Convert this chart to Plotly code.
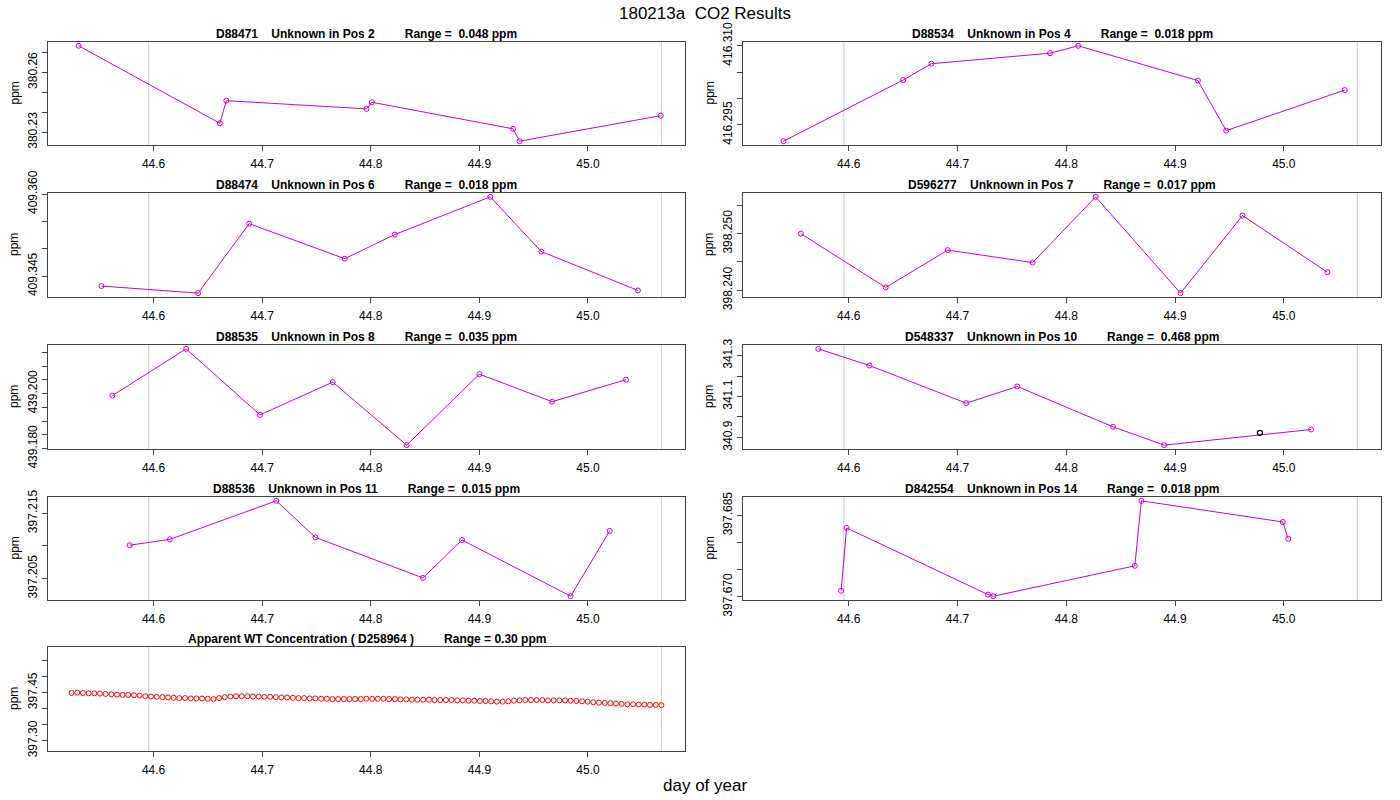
import numpy as np
import plotly.graph_objects as go

# ---- data (decimal day of year, ppm) ----
d88471_day = [44.531, 44.661, 44.667, 44.796, 44.801, 44.931, 44.937, 45.067]
d88471_ppm = [380.2733, 380.2345, 380.2458, 380.2417, 380.2450, 380.2317, 380.2255, 380.2383]

d88534_day = [44.540, 44.650, 44.676, 44.785, 44.811, 44.921, 44.947, 45.056]
d88534_ppm = [416.2919, 416.3035, 416.3066, 416.3086, 416.3100, 416.3034, 416.2939, 416.3016]

d88474_day = [44.552, 44.641, 44.688, 44.776, 44.822, 44.910, 44.957, 45.046]
d88474_ppm = [409.3432, 409.3419, 409.3546, 409.3482, 409.3526, 409.3595, 409.3495, 409.3424]

d596277_day = [44.556, 44.634, 44.691, 44.769, 44.827, 44.905, 44.962, 45.040]
d596277_ppm = [398.2500, 398.2405, 398.2471, 398.2449, 398.2565, 398.2395, 398.2532, 398.2432]

d88535_day = [44.562, 44.630, 44.698, 44.765, 44.833, 44.900, 44.967, 45.035]
d88535_ppm = [439.1993, 439.2163, 439.1923, 439.2042, 439.1813, 439.2071, 439.1971, 439.2051]

d548337_day = [44.572, 44.619, 44.708, 44.755, 44.843, 44.890, 45.025]
d548337_ppm = [341.3325, 341.2512, 341.0675, 341.1488, 340.9520, 340.8626, 340.9390]
d548337_flag_day = [44.978]
d548337_flag_ppm = [340.9228]

d88536_day = [44.578, 44.615, 44.713, 44.749, 44.848, 44.884, 44.984, 45.020]
d88536_ppm = [397.2101, 397.2110, 397.2169, 397.2113, 397.2051, 397.2109, 397.2023, 397.2123]

d842554_day = [44.593, 44.598, 44.728, 44.733, 44.863, 44.869, 44.999, 45.004]
d842554_ppm = [397.6711, 397.6827, 397.6704, 397.6701, 397.6757, 397.6877, 397.6838, 397.6807]

wt_day = [44.5245, 44.5297, 44.5349, 44.5402, 44.5454, 44.5506, 44.5558, 44.5611, 44.5663, 44.5715,
          44.5767, 44.5819, 44.5872, 44.5924, 44.5976, 44.6028, 44.6081, 44.6133, 44.6185, 44.6237,
          44.6289, 44.6342, 44.6394, 44.6446, 44.6498, 44.6551, 44.6603, 44.6655, 44.6707, 44.6759,
          44.6812, 44.6864, 44.6916, 44.6968, 44.7020, 44.7073, 44.7125, 44.7177, 44.7229, 44.7282,
          44.7334, 44.7386, 44.7438, 44.7490, 44.7543, 44.7595, 44.7647, 44.7699, 44.7752, 44.7804,
          44.7856, 44.7908, 44.7960, 44.8013, 44.8065, 44.8117, 44.8169, 44.8222, 44.8274, 44.8326,
          44.8378, 44.8430, 44.8483, 44.8535, 44.8587, 44.8639, 44.8692, 44.8744, 44.8796, 44.8848,
          44.8900, 44.8953, 44.9005, 44.9057, 44.9109, 44.9161, 44.9214, 44.9266, 44.9318, 44.9370,
          44.9423, 44.9475, 44.9527, 44.9579, 44.9631, 44.9684, 44.9736, 44.9788, 44.9840, 44.9893,
          44.9945, 44.9997, 45.0049, 45.0101, 45.0154, 45.0206, 45.0258, 45.0310, 45.0363, 45.0415,
          45.0467, 45.0519, 45.0571, 45.0624, 45.0676]
wt_ppm = [397.449, 397.450, 397.449, 397.448, 397.448, 397.447, 397.446, 397.445, 397.444, 397.443,
          397.443, 397.442, 397.441, 397.439, 397.438, 397.437, 397.436, 397.435, 397.434, 397.433,
          397.433, 397.432, 397.432, 397.432, 397.431, 397.430, 397.433, 397.436, 397.438, 397.439,
          397.439, 397.439, 397.438, 397.438, 397.437, 397.437, 397.436, 397.435, 397.435, 397.434,
          397.433, 397.433, 397.432, 397.432, 397.431, 397.431, 397.430, 397.430, 397.430, 397.430,
          397.430, 397.430, 397.431, 397.431, 397.431, 397.431, 397.430, 397.430, 397.429, 397.429,
          397.428, 397.428, 397.428, 397.428, 397.427, 397.427, 397.427, 397.427, 397.426, 397.426,
          397.425, 397.425, 397.424, 397.424, 397.423, 397.422, 397.422, 397.423, 397.425, 397.426,
          397.427, 397.427, 397.427, 397.427, 397.426, 397.426, 397.426, 397.426, 397.425, 397.424,
          397.423, 397.422, 397.420, 397.419, 397.418, 397.417, 397.416, 397.415, 397.414, 397.414,
          397.413, 397.413, 397.412, 397.412, 397.411]
wt_id = "D258964"
wt_window = 0.30

ref_days = [44.5955, 45.0676]   # grey markers drawn on every panel

tank_ids = ["D88471", "D88534", "D88474", "D596277", "D88535", "D548337", "D88536", "D842554"]
positions = [2, 4, 6, 7, 8, 10, 11, 14]
range_labels = ["0.048", "0.018", "0.018", "0.017", "0.035", "0.468", "0.015", "0.018"]

ytick_vals = [
    [380.23, 380.24, 380.25, 380.26, 380.27],
    [416.295, 416.300, 416.305, 416.310],
    [409.345, 409.350, 409.355, 409.360],
    [398.240, 398.245, 398.250, 398.255],
    [439.180, 439.185, 439.190, 439.195, 439.200, 439.205, 439.210, 439.215],
    [340.9, 341.0, 341.1, 341.2, 341.3],
    [397.205, 397.210, 397.215],
    [397.670, 397.675, 397.680, 397.685],
    [397.30, 397.35, 397.40, 397.45, 397.50, 397.55],
]
ytick_text = [
    ["380.23", "", "", "380.26", ""],
    ["416.295", "", "", "416.310"],
    ["409.345", "", "", "409.360"],
    ["398.240", "", "398.250", ""],
    ["439.180", "", "", "", "439.200", "", "", ""],
    ["340.9", "", "341.1", "", "341.3"],
    ["397.205", "", "397.215"],
    ["397.670", "", "", "397.685"],
    ["397.30", "", "", "397.45", "", ""],
]
xtick_vals = [44.6, 44.7, 44.8, 44.9, 45.0]

series_day = [d88471_day, d88534_day, d88474_day, d596277_day, d88535_day, d548337_day, d88536_day, d842554_day]
series_ppm = [d88471_ppm, d88534_ppm, d88474_ppm, d596277_ppm, d88535_ppm, d548337_ppm, d88536_ppm, d842554_ppm]

# ---- layout in pixels ----
W, H = 1400, 800
col_px = [(48, 685), (743, 1381)]
row_px = [(42, 145), (193, 297), (345, 449), (497, 600), (647, 751)]
MAG = "#cd00cd"
NB = "\u00a0"


def px_x(p):
    return p / W


def px_y(p):
    return 1 - p / H


fig = go.Figure()
font = "Liberation Sans, Arial, sans-serif"
title_font = "Liberation Sans Narrow, Liberation Sans, Arial, sans-serif"

x_lo, x_hi = min(wt_day), max(wt_day)
xpad = 0.04 * (x_hi - x_lo)
xr = [x_lo - xpad, x_hi + xpad]

annotations = []
shapes = []


def pad_range(vals):
    lo, hi = min(vals), max(vals)
    p = 0.04 * (hi - lo)
    return [lo - p, hi + p]


for k in range(9):
    n = k + 1
    r, c = divmod(k, 2)
    x0, x1 = col_px[c]
    top, bot = row_px[r]
    xa = "xaxis" if n == 1 else f"xaxis{n}"
    ya = "yaxis" if n == 1 else f"yaxis{n}"
    xs = "x" if n == 1 else f"x{n}"
    ys = "y" if n == 1 else f"y{n}"

    if k < 8:
        yr = pad_range(series_ppm[k] + (d548337_flag_ppm if k == 5 else []))
        ttl = (f"{tank_ids[k]}{NB*4}Unknown in Pos {positions[k]}{NB*9}"
               f"Range ={NB*2}{range_labels[k]} ppm")
        fig.add_trace(go.Scatter(x=series_day[k], y=series_ppm[k], mode="lines+markers",
                                 xaxis=xs, yaxis=ys, showlegend=False,
                                 line=dict(color=MAG, width=1),
                                 marker=dict(symbol="circle-open", size=5, color=MAG,
                                             line=dict(width=1, color=MAG))))
        if k == 5:
            fig.add_trace(go.Scatter(x=d548337_flag_day, y=d548337_flag_ppm, mode="markers",
                                     xaxis=xs, yaxis=ys, showlegend=False,
                                     marker=dict(symbol="circle-open", size=5, color="black",
                                                 line=dict(width=1.3, color="black"))))
    else:
        m = float(np.mean(wt_ppm))
        yr = pad_range([m - wt_window / 2, m + wt_window / 2])
        ttl = (f"Apparent WT Concentration ( {wt_id} ){NB*9}Range = {wt_window:.2f} ppm")
        fig.add_trace(go.Scatter(x=wt_day, y=wt_ppm, mode="markers",
                                 xaxis=xs, yaxis=ys, showlegend=False,
                                 marker=dict(symbol="circle-open", size=5, color="red",
                                             line=dict(width=1, color="red"))))

    fig.layout[xa] = dict(domain=[px_x(x0), px_x(x1)], range=xr, anchor=ys, automargin=False,
                          showline=True, mirror=True, linecolor="#444", linewidth=1,
                          ticks="outside", ticklen=5, tickcolor="#444", ticklabelstandoff=3,
                          tickvals=xtick_vals, tickformat=".1f", showgrid=False, zeroline=False,
                          tickfont=dict(family=font, size=12, color="black"))
    fig.layout[ya] = dict(domain=[px_y(bot), px_y(top)], range=yr, anchor=xs, automargin=False,
                          showline=True, mirror=True, linecolor="#444", linewidth=1,
                          ticks="outside", ticklen=5, tickcolor="#444",
                          tickvals=ytick_vals[k], ticktext=ytick_text[k], tickangle=-90,
                          showgrid=False, zeroline=False,
                          tickfont=dict(family=font, size=12, color="black"))

    for d in ref_days:
        shapes.append(dict(type="line", xref=xs, yref=f"{ys} domain", x0=d, x1=d, y0=0, y1=1,
                           line=dict(color="#d3d3d3", width=1.2), layer="below"))

    annotations.append(dict(text=f"<b>{ttl}</b>", x=px_x((x0 + x1) / 2), y=px_y(top - 8),
                            xref="paper", yref="paper", xanchor="center", yanchor="middle",
                            showarrow=False, font=dict(family=title_font, size=12, color="black")))
    annotations.append(dict(text="ppm", x=px_x(x0 - 34), y=px_y((top + bot) / 2),
                            xref="paper", yref="paper", xanchor="center", yanchor="middle",
                            textangle=-90, showarrow=False,
                            font=dict(family=font, size=12, color="black")))

annotations.append(dict(text="180213a  CO2 Results".replace("  ", NB * 2), x=px_x(705), y=px_y(14),
                        xref="paper", yref="paper", xanchor="center", yanchor="middle",
                        showarrow=False, font=dict(family=font, size=17, color="black")))
annotations.append(dict(text="day of year", x=px_x(705), y=px_y(785),
                        xref="paper", yref="paper", xanchor="center", yanchor="middle",
                        showarrow=False, font=dict(family=font, size=17, color="black")))

fig.update_layout(width=W, height=H, margin=dict(l=0, r=0, t=0, b=0, pad=0, autoexpand=False),
                  plot_bgcolor="white", paper_bgcolor="white",
                  annotations=annotations, shapes=shapes)

# drop the default page margin so the figure sits at the window's corner
fig.write_html("out.html", config={"displayModeBar": False},
               post_script="document.body.style.margin='0px';")
